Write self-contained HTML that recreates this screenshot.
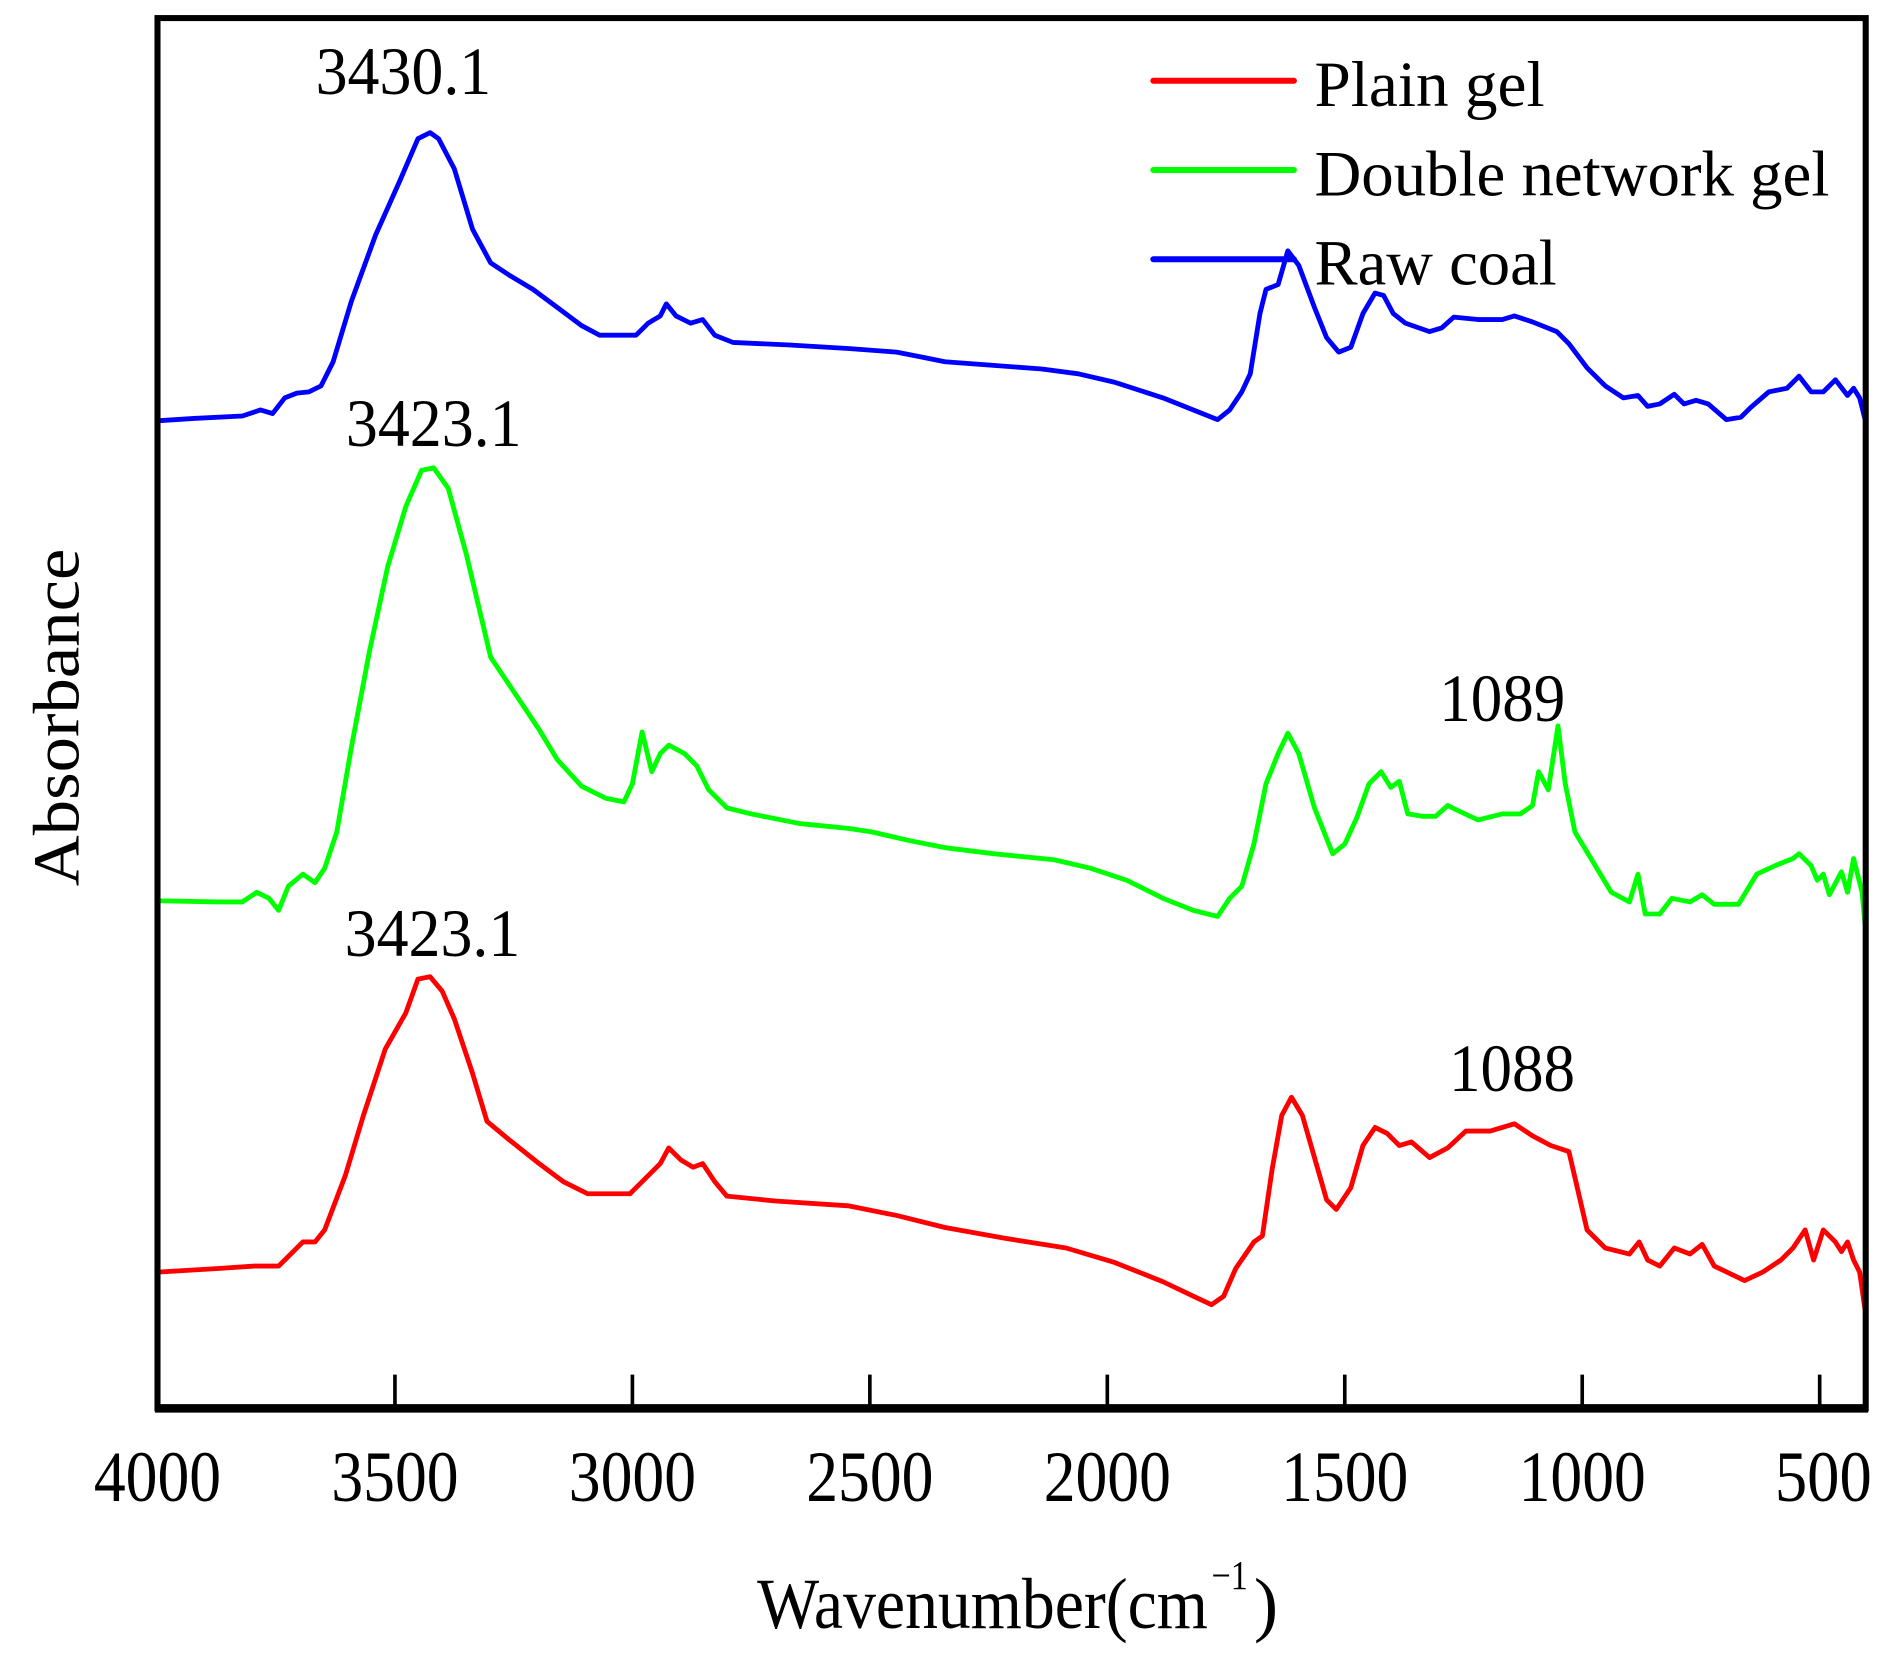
<!DOCTYPE html>
<html><head><meta charset="utf-8"><style>html,body{margin:0;padding:0;background:#fff}svg{display:block}</style></head>
<body>
<svg width="1896" height="1664" viewBox="0 0 1565 1380" preserveAspectRatio="none" xmlns="http://www.w3.org/2000/svg" font-family="'Liberation Serif', serif">
<rect width="1565" height="1380" fill="#fff"/>
<g fill="none" stroke-width="4" stroke-linejoin="round">
<polyline stroke="#0000ff" points="130,349 160,347 200,345 215,340 225,343 235,330 245,326 255,325 265,320 275,300 290,250 310,195 330,150 345,115 355,110 362,115 375,140 390,190 405,218 420,228 440,240 460,255 480,270 495,278 525,278 535,268 545,262 550,252 558,262 570,268 580,265 590,278 605,284 650,286 700,289 740,292 760,296 780,300 820,303 860,306 890,310 920,317 960,330 990,342 1005,348 1015,340 1025,325 1032,310 1040,260 1045,240 1055,236 1063,208 1072,220 1085,255 1095,280 1105,292 1115,288 1125,260 1135,243 1142,245 1150,260 1160,268 1180,275 1190,272 1200,263 1220,265 1240,265 1250,262 1265,267 1285,275 1295,285 1310,305 1325,320 1340,330 1352,328 1360,337 1370,335 1382,327 1390,335 1400,332 1410,335 1425,348 1437,346 1445,338 1460,325 1475,322 1485,312 1495,325 1505,325 1515,315 1525,328 1530,322 1535,330 1540,350"/>
<polyline stroke="#00ff00" points="130,772 130,747 180,748 200,748 212,740 222,745 230,755 238,735 250,725 260,732 268,720 278,690 290,620 305,540 320,470 335,420 348,390 358,388 370,405 385,460 405,545 425,575 445,605 460,630 480,652 500,662 515,665 522,650 530,607 538,640 545,625 552,618 565,625 575,635 585,655 600,670 620,675 660,683 700,687 720,690 750,697 780,703 820,708 870,713 900,720 930,730 960,745 985,755 1005,760 1015,745 1025,735 1035,700 1045,650 1055,625 1063,608 1072,625 1085,670 1100,708 1110,700 1120,678 1130,650 1140,640 1148,653 1155,648 1162,675 1175,677 1185,677 1195,668 1205,673 1220,680 1240,675 1255,675 1265,668 1270,640 1278,655 1286,602 1292,650 1300,690 1315,715 1330,740 1345,748 1352,725 1358,758 1370,758 1380,745 1395,748 1405,742 1415,750 1435,750 1450,725 1465,718 1480,712 1485,708 1495,718 1500,730 1505,725 1510,742 1520,723 1525,740 1530,712 1537,740 1540,772"/>
<polyline stroke="#ff0000" points="130,1088 130,1055 180,1052 210,1050 230,1050 240,1040 250,1030 260,1030 268,1020 285,975 300,925 318,870 335,840 345,812 355,810 365,822 375,845 390,890 402,930 420,945 445,965 465,980 485,990 520,990 535,975 545,965 552,952 562,962 572,968 580,965 590,980 600,992 640,996 700,1000 740,1008 780,1018 830,1027 880,1035 920,1047 960,1063 985,1075 1000,1082 1010,1075 1020,1052 1035,1030 1042,1025 1050,970 1058,925 1066,910 1075,925 1085,960 1095,995 1103,1003 1115,985 1125,950 1135,935 1145,940 1155,950 1165,947 1180,960 1195,952 1210,938 1230,938 1250,932 1265,942 1280,950 1295,955 1310,1020 1325,1035 1345,1040 1353,1030 1360,1045 1370,1050 1382,1035 1395,1040 1405,1032 1415,1050 1440,1062 1455,1055 1470,1045 1480,1035 1490,1020 1497,1045 1505,1020 1515,1030 1520,1038 1525,1030 1530,1045 1535,1055 1540,1090"/>
</g>
<rect x="130" y="15" width="1410" height="1153" fill="none" stroke="#000" stroke-width="5"/>
<line x1="128" y1="1168" x2="1542" y2="1168" stroke="#000" stroke-width="7"/>
<g stroke="#000" stroke-width="3">
<line x1="326" y1="1168" x2="326" y2="1140"/><line x1="522" y1="1168" x2="522" y2="1140"/><line x1="718" y1="1168" x2="718" y2="1140"/><line x1="914" y1="1168" x2="914" y2="1140"/><line x1="1110" y1="1168" x2="1110" y2="1140"/><line x1="1306" y1="1168" x2="1306" y2="1140"/><line x1="1502" y1="1168" x2="1502" y2="1140"/>
</g>
<g font-size="60" text-anchor="middle" fill="#000">
<text x="130" y="1245" textLength="105" lengthAdjust="spacingAndGlyphs">4000</text>
<text x="326" y="1245" textLength="105" lengthAdjust="spacingAndGlyphs">3500</text>
<text x="522" y="1245" textLength="105" lengthAdjust="spacingAndGlyphs">3000</text>
<text x="718" y="1245" textLength="105" lengthAdjust="spacingAndGlyphs">2500</text>
<text x="914" y="1245" textLength="105" lengthAdjust="spacingAndGlyphs">2000</text>
<text x="1110" y="1245" textLength="105" lengthAdjust="spacingAndGlyphs">1500</text>
<text x="1306" y="1245" textLength="105" lengthAdjust="spacingAndGlyphs">1000</text>
<text x="1505" y="1245" textLength="80" lengthAdjust="spacingAndGlyphs">500</text>
</g>
<text x="625" y="1350" font-size="60" textLength="372" lengthAdjust="spacingAndGlyphs">Wavenumber(cm</text>
<text x="1000" y="1318" font-size="34" textLength="30" lengthAdjust="spacingAndGlyphs">−1</text>
<text x="1035" y="1350" font-size="60">)</text>
<text transform="translate(65,595) rotate(-90)" font-size="54" text-anchor="middle" textLength="280" lengthAdjust="spacingAndGlyphs">Absorbance</text>
<g font-size="56" text-anchor="middle">
<text x="333" y="78" textLength="145" lengthAdjust="spacingAndGlyphs">3430.1</text>
<text x="358" y="370" textLength="145" lengthAdjust="spacingAndGlyphs">3423.1</text>
<text x="357" y="793" textLength="145" lengthAdjust="spacingAndGlyphs">3423.1</text>
<text x="1240" y="598" textLength="104" lengthAdjust="spacingAndGlyphs">1089</text>
<text x="1248" y="905" textLength="104" lengthAdjust="spacingAndGlyphs">1088</text>
</g>
<g stroke-width="5" stroke-linecap="round">
<line x1="952" y1="67" x2="1068" y2="67" stroke="#ff0000"/>
<line x1="952" y1="141" x2="1068" y2="141" stroke="#00ff00"/>
<line x1="952" y1="215" x2="1068" y2="215" stroke="#0000ff"/>
</g>
<g font-size="54">
<text x="1085" y="88" textLength="190" lengthAdjust="spacingAndGlyphs">Plain gel</text>
<text x="1085" y="162" textLength="425" lengthAdjust="spacingAndGlyphs">Double network gel</text>
<text x="1085" y="236" textLength="200" lengthAdjust="spacingAndGlyphs">Raw coal</text>
</g>
</svg>
</body></html>
